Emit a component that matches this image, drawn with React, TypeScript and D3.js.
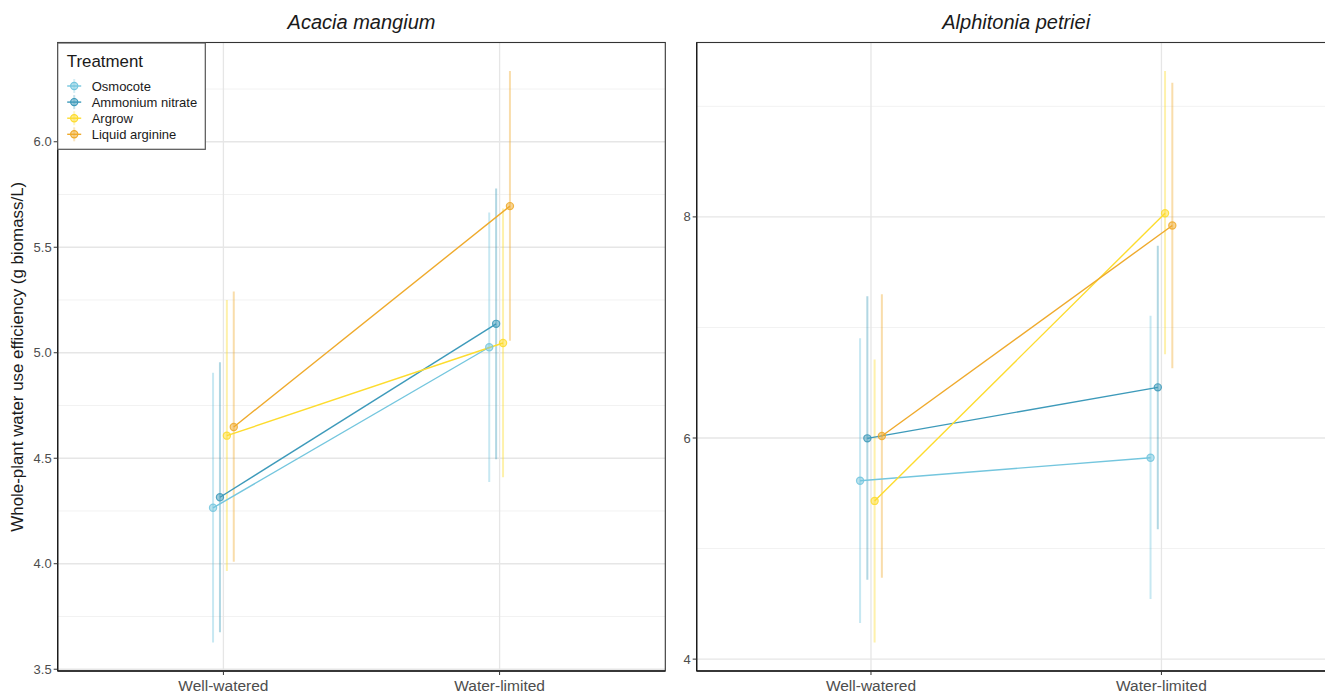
import * as d3 from "d3";

// conditions on the x axis, treatments as series
const conditions = ["Well-watered", "Water-limited"];
const treatments = ["Osmocote", "Ammonium nitrate", "Argrow", "Liquid arginine"];
const colors = ["#74C6DE", "#3D9ABA", "#FDDC2E", "#EFAA2C"];

// Acacia mangium: mean, lower, upper per treatment [WW, WL]
const acaciaMean = [[4.265, 5.026], [4.315, 5.137], [4.607, 5.046], [4.648, 5.695]];
const acaciaLow = [[3.627, 4.387], [3.675, 4.495], [3.966, 4.41], [4.009, 5.057]];
const acaciaHigh = [[4.905, 5.665], [4.955, 5.779], [5.25, 5.684], [5.29, 6.335]];

// Alphitonia petriei
const alphMean = [[5.614, 5.822], [5.997, 6.458], [5.431, 8.033], [6.018, 7.922]];
const alphLow = [[4.326, 4.543], [4.717, 5.175], [4.151, 6.757], [4.735, 6.63]];
const alphHigh = [[6.902, 7.105], [7.283, 7.74], [6.711, 9.319], [7.3, 9.214]];

const acaciaTicks = [3.5, 4.0, 4.5, 5.0, 5.5, 6.0];
const acaciaMinor = [3.75, 4.25, 4.75, 5.25, 5.75, 6.25];
const alphTicks = [4, 6, 8];
const alphMinor = [5, 7, 9];

const W = 1325;
const H = 694;
const top = 42.5;
const bottom = 671;
const font = "'Liberation Sans', Arial, sans-serif";

function Panel({ x0, x1, title, mean, low, high, ticks, minor, fmt }) {
  const all = [...low.flat(), ...high.flat()];
  const [mn, mx] = d3.extent(all);
  const pad = (mx - mn) * 0.05;
  const y = d3.scaleLinear().domain([mn - pad, mx + pad]).range([bottom, top]);
  const x = d3.scaleLinear().domain([0.4, 2.6]).range([x0, x1]);
  const dodge = (i) => (i - 1.5) * 0.025;
  const line = d3.line().x((d) => x(d[0])).y((d) => y(d[1]));
  const clipId = "clip" + Math.round(x0);

  return (
    <g>
      <defs>
        <clipPath id={clipId}>
          <rect x={x0} y={top} width={x1 - x0} height={bottom - top} />
        </clipPath>
      </defs>
      <text x={(x0 + x1) / 2} y={29} textAnchor="middle" fontSize={20} fontStyle="italic" fill="#1a1a1a">
        {title}
      </text>
      <g clipPath={`url(#${clipId})`}>
        {minor.map((t) => (
          <line key={"m" + t} x1={x0} x2={x1} y1={y(t)} y2={y(t)} stroke="#f2f2f2" strokeWidth={1} />
        ))}
        {ticks.map((t) => (
          <line key={"g" + t} x1={x0} x2={x1} y1={y(t)} y2={y(t)} stroke="#e6e6e6" strokeWidth={1.3} />
        ))}
        {conditions.map((c, j) => (
          <line key={c} x1={x(j + 1)} x2={x(j + 1)} y1={top} y2={bottom} stroke="#e6e6e6" strokeWidth={1.3} />
        ))}
        {treatments.map((t, i) =>
          conditions.map((c, j) => (
            <line
              key={t + c}
              x1={x(j + 1 + dodge(i))}
              x2={x(j + 1 + dodge(i))}
              y1={y(low[i][j])}
              y2={y(high[i][j])}
              stroke={colors[i]}
              strokeOpacity={0.4}
              strokeWidth={2}
            />
          ))
        )}
        {treatments.map((t, i) => (
          <path
            key={t}
            d={line(conditions.map((c, j) => [j + 1 + dodge(i), mean[i][j]]))}
            fill="none"
            stroke={colors[i]}
            strokeWidth={1.4}
          />
        ))}
        {treatments.map((t, i) =>
          conditions.map((c, j) => (
            <circle
              key={"p" + t + c}
              cx={x(j + 1 + dodge(i))}
              cy={y(mean[i][j])}
              r={3.6}
              fill={colors[i]}
              fillOpacity={0.5}
              stroke={colors[i]}
              strokeOpacity={0.85}
              strokeWidth={1.2}
            />
          ))
        )}
      </g>
      <rect x={x0} y={top} width={x1 - x0} height={bottom - top} fill="none" stroke="#333" strokeWidth={1.1} />
      <line x1={x0} x2={x1} y1={bottom} y2={bottom} stroke="#1a1a1a" strokeWidth={1.3} />
      <line x1={x0} x2={x0} y1={top} y2={bottom} stroke="#1a1a1a" strokeWidth={1.3} />
      {ticks.map((t) => (
        <g key={"t" + t}>
          <line x1={x0 - 4} x2={x0} y1={y(t)} y2={y(t)} stroke="#333" />
          <text x={x0 - 6} y={y(t)} dy="0.35em" textAnchor="end" fontSize={13} fill="#4d4d4d">
            {fmt(t)}
          </text>
        </g>
      ))}
      {conditions.map((c, j) => (
        <g key={"x" + c}>
          <line x1={x(j + 1)} x2={x(j + 1)} y1={bottom} y2={bottom + 4} stroke="#333" />
          <text x={x(j + 1)} y={bottom + 20} textAnchor="middle" fontSize={15.5} fill="#4d4d4d">
            {c}
          </text>
        </g>
      ))}
    </g>
  );
}

function Legend() {
  const lx = 57.7;
  const ly = 43;
  return (
    <g>
      <rect x={lx} y={ly} width={147.6} height={106.3} fill="#fff" stroke="#555" strokeWidth={1.2} />
      <text x={lx + 9} y={ly + 24} fontSize={16.9} fill="#1a1a1a">
        Treatment
      </text>
      {treatments.map((t, i) => {
        const cy = ly + 43 + i * 16.1;
        const cx = lx + 16.5;
        return (
          <g key={t}>
            <line x1={cx} x2={cx} y1={cy - 7} y2={cy + 7} stroke={colors[i]} strokeOpacity={0.3} strokeWidth={2} />
            <line x1={cx - 7} x2={cx + 7} y1={cy} y2={cy} stroke={colors[i]} strokeWidth={1.4} />
            <circle cx={cx} cy={cy} r={3.6} fill={colors[i]} fillOpacity={0.5} stroke={colors[i]} strokeWidth={1.2} />
            <text x={lx + 34} y={cy} dy="0.35em" fontSize={13} fill="#1a1a1a">
              {t}
            </text>
          </g>
        );
      })}
    </g>
  );
}

export default function App() {
  return (
    <svg
      width={W}
      height={H}
      style={{ position: "absolute", left: 0, top: 0, background: "#fff" }}
      fontFamily={font}
    >
      <rect width={W} height={H} fill="#fff" />
      <text
        transform={`translate(23,${(top + bottom) / 2}) rotate(-90)`}
        textAnchor="middle"
        fontSize={16.9}
        fill="#1a1a1a"
      >
        Whole-plant water use efficiency (g biomass/L)
      </text>
      <Panel
        x0={57.7}
        x1={665.3}
        title="Acacia mangium"
        mean={acaciaMean}
        low={acaciaLow}
        high={acaciaHigh}
        ticks={acaciaTicks}
        minor={acaciaMinor}
        fmt={d3.format(".1f")}
      />
      <Panel
        x0={696.7}
        x1={1335.7}
        title="Alphitonia petriei"
        mean={alphMean}
        low={alphLow}
        high={alphHigh}
        ticks={alphTicks}
        minor={alphMinor}
        fmt={d3.format("d")}
      />
      <Legend />
    </svg>
  );
}
